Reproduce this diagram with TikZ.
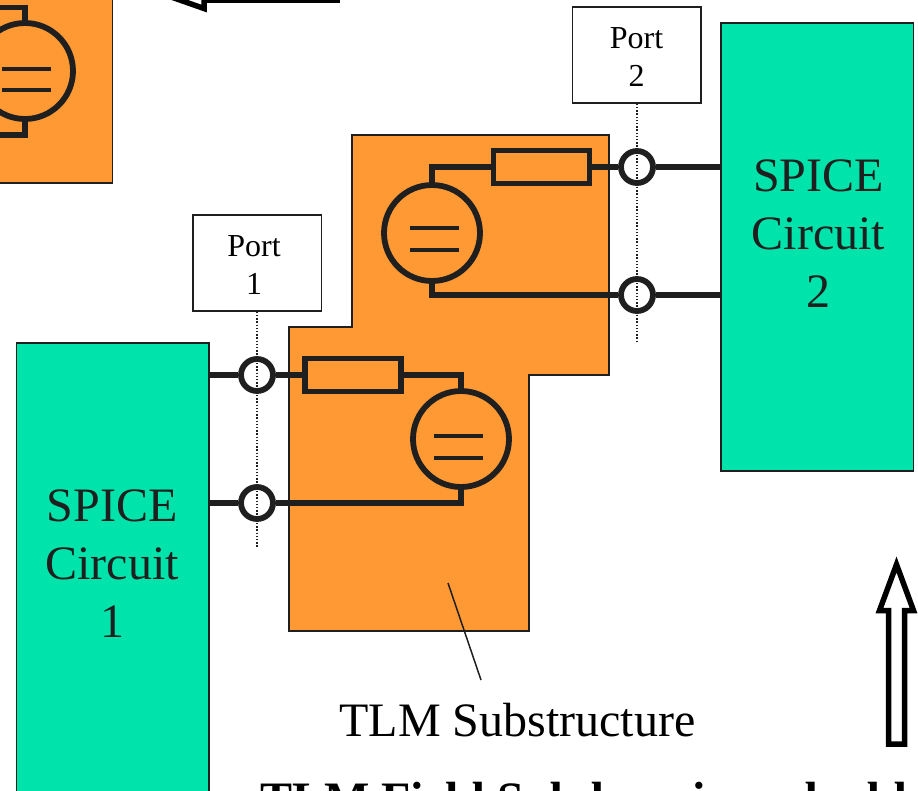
\documentclass[tikz,border=0pt]{standalone}
\usepackage{fontspec}
\setmainfont{Liberation Serif}
\usetikzlibrary{calc}
\definecolor{subcolor}{HTML}{FF9933}
\definecolor{spicecolor}{HTML}{00E3AA}
\definecolor{wirecolor}{HTML}{1F1F1F}
\newcommand{\thickness}{5.8pt}
\newcommand{\bigtext}{\fontsize{48}{58}\selectfont}
\newcommand{\porttext}{\fontsize{32}{38}\selectfont}
\tikzset{
  outline/.style={draw=wirecolor, line width=1.5pt},
  wire/.style={draw=wirecolor, line width=\thickness},
  bar/.style={draw=wirecolor, line width=4.5pt},
  terminal/.style={circle, wire, fill=white, minimum size=32pt, inner sep=0pt},
  source/.style={circle, wire, minimum size=96pt, inner sep=0pt},
  resistor/.style={rectangle, wire, minimum width=96pt, minimum height=33pt, inner sep=0pt},
  spicebox/.style={rectangle, outline, fill=spicecolor, minimum width=192.5pt, inner sep=0pt},
  spicetext/.style={inner sep=0pt, align=center, font=\bigtext, text=wirecolor},
  portbox/.style={rectangle, outline, fill=white, minimum width=128.5pt, minimum height=96pt, inner sep=0pt},
  porttext/.style={inner sep=0pt, align=center, font=\porttext},
  probe/.style={draw=wirecolor, line width=1.5pt, dash pattern=on 1.5pt off 1.7pt},
  hollow/.style={draw=black, line width=5.5pt, miter limit=10}
}
\begin{document}
\begin{tikzpicture}[x=1pt, y=-1pt]
\useasboundingbox (0,0) rectangle (918,790);
\clip (0,0) rectangle (918,790);
%orange areas
\fill[subcolor] (-10,-10) rectangle (112.5,183);
\draw[outline] (112.5,-10) -- (112.5,183) -- (-10,183);
\draw[outline, fill=subcolor] (352,135) -- (609,135) -- (609,375) -- (529,375) -- (529,631) -- (289,631) -- (289,327) -- (352,327) -- cycle;
%left fragment
\node[source] (s0) at (25,71) {};
\coordinate (s0a) at (25,7.5);
\coordinate (s0b) at (25,135);
\draw[wire] (s0) -- (s0a) -- (-10,7.5);
\draw[wire] (s0) -- (s0b) -- (-10,135);
\draw[bar] (2,69) -- (50.5,69);
\draw[bar] (2,90) -- (50.5,90);
%spice circuits
\node[spicebox, minimum height=448pt] (c2) at (817,247) {};
\node[spicebox, minimum height=470pt] (c1) at (112.5,578) {};
\node[spicetext] (l2) at (818.5,233.5) {SPICE\\Circuit\\2};
\node[spicetext] (l1) at (112,563.5) {SPICE\\Circuit\\1};
%upper branch
\node[terminal] (p2a) at (637,167) {};
\node[terminal] (p2b) at (637,295) {};
\node[resistor] (r2) at (541.5,167) {};
\node[source] (s2) at (432,233) {};
\coordinate (k2a) at (432,167);
\coordinate (k2b) at (432,295);
\draw[wire] (s2) -- (k2a) -- (r2);
\draw[wire] (r2) -- (p2a);
\draw[wire] (s2) -- (k2b) -- (p2b);
\draw[wire] (p2a) -- (p2a -| c2.west);
\draw[wire] (p2b) -- (p2b -| c2.west);
\draw[bar] (410,228) -- (459,228);
\draw[bar] (410,250) -- (459,250);
%lower branch
\node[terminal] (p1a) at (257,375) {};
\node[terminal] (p1b) at (257,503) {};
\node[resistor] (r1) at (353,375) {};
\node[source] (s1) at (461,439) {};
\coordinate (k1a) at (461,375);
\coordinate (k1b) at (461,503);
\draw[wire] (r1) -- (k1a) -- (s1);
\draw[wire] (p1a) -- (r1);
\draw[wire] (s1) -- (k1b) -- (p1b);
\draw[wire] (p1a) -- (p1a -| c1.east);
\draw[wire] (p1b) -- (p1b -| c1.east);
\draw[bar] (434,436) -- (483,436);
\draw[bar] (434,458) -- (483,458);
%ports
\node[portbox] (b2) at (636.5,55) {};
\node[portbox] (b1) at (257,263) {};
\node[porttext] (n2) at (636.5,57) {Port\\2};
\node[porttext] (n1) at (254,265) {Port\\1};
\coordinate (e2) at (637,341);
\coordinate (e1) at (257,548);
\draw[probe] (b2.south -| e2) -- (e2);
\draw[probe] (b1.south -| e1) -- (e1);
%labels
\node[font=\bigtext, anchor=base, inner sep=0pt] (t1) at (517.5,736) {TLM Substructure};
\coordinate (t1a) at (481,680);
\coordinate (t1b) at (448,583);
\draw[wirecolor, line width=1.5pt] (t1a) -- (t1b);
\node[font=\bigtext\bfseries, anchor=base west, inner sep=0pt] (t2) at (260,815) {TLM Field Subdomain embedded};
%hollow arrows
\draw[hollow] (888.5,744) -- (904.5,744) -- (904.5,610.5) -- (913.5,610.5) -- (896.5,564.5) -- (879.5,610.5) -- (888.5,610.5) -- cycle;
\draw[hollow] (337,0) -- (204,0) -- (204,8.5) -- (157,-8) -- (204,-24) -- (204,-16) -- (337,-16) -- cycle;
\end{tikzpicture}
\end{document}
